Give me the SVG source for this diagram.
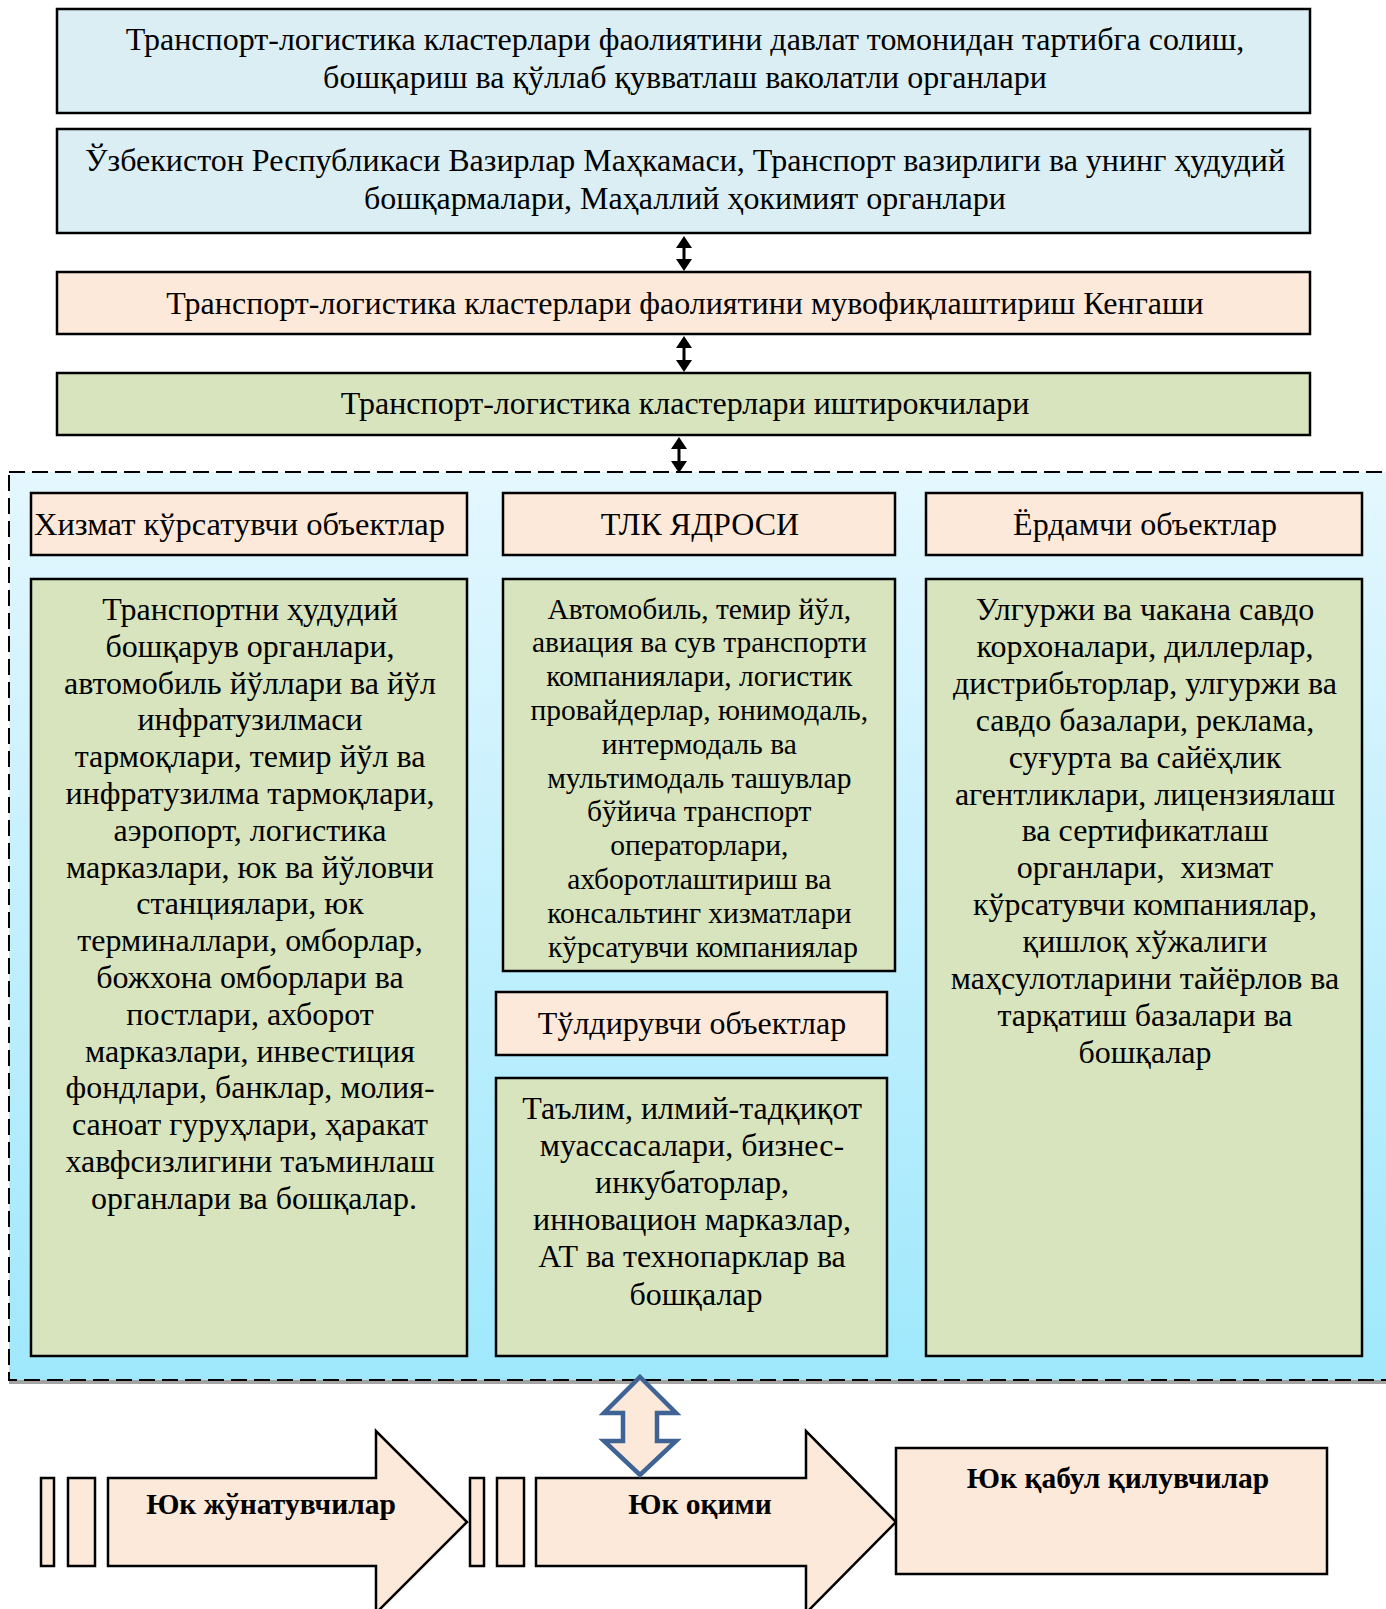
<svg xmlns="http://www.w3.org/2000/svg" width="1386" height="1609" viewBox="0 0 1386 1609">
<defs>
<linearGradient id="bg" x1="0" y1="0" x2="0" y2="1">
<stop offset="0" stop-color="#e4f7fe"/>
<stop offset="1" stop-color="#9fe8fc"/>
</linearGradient>
<marker id="ah" viewBox="0 0 12 16" refX="0" refY="8" markerWidth="12" markerHeight="16" markerUnits="userSpaceOnUse" orient="auto-start-reverse">
<path d="M0,0 L12,8 L0,16 Z" fill="#000"/>
</marker>
<style>
.box{stroke:#000;stroke-width:2.5}
.blue{fill:#daeef3}
.peach{fill:#fde9d9}
.green{fill:#d7e4bd}
text{font-family:"Liberation Serif","Times New Roman",serif;fill:#000}
.t{font-size:32px;text-anchor:middle}
.h{font-size:32.5px}
.i{font-size:32px;text-anchor:middle}
.c{font-size:29.5px;text-anchor:middle}
.b{font-size:29.5px;font-weight:bold;text-anchor:middle}
.conn{stroke:#000;stroke-width:3;fill:none}
</style>
</defs>
<rect width="1386" height="1609" fill="#fff"/>

<g id="cluster-container">
<rect x="9" y="1380" width="1390" height="4" fill="#a3a3a3"/>
<rect x="9" y="472" width="1390" height="908" fill="url(#bg)" stroke="#000" stroke-width="2" stroke-dasharray="16 7"/>
</g>

<g id="n1">
<rect class="box blue" x="57" y="9" width="1253" height="104"/>
<text class="t" x="685" y="50">Транспорт-логистика кластерлари фаолиятини давлат томонидан тартибга солиш,</text>
<text class="t" x="685" y="88">бошқариш ва қўллаб қувватлаш ваколатли органлари</text>
</g>
<g id="n2">
<rect class="box blue" x="57" y="129" width="1253" height="104"/>
<text class="t" x="685" y="171">Ўзбекистон Республикаси Вазирлар Маҳкамаси, Транспорт вазирлиги ва унинг ҳудудий</text>
<text class="t" x="685" y="209">бошқармалари, Маҳаллий ҳокимият органлари</text>
</g>
<g id="n3">
<rect class="box peach" x="57" y="272" width="1253" height="62"/>
<text class="t" x="685" y="314">Транспорт-логистика кластерлари фаолиятини мувофиқлаштириш Кенгаши</text>
</g>
<g id="n4">
<rect class="box green" x="57" y="373" width="1253" height="62"/>
<text class="t" x="685" y="414">Транспорт-логистика кластерлари иштирокчилари</text>
</g>

<g id="h-service">
<rect class="box peach" x="31" y="493" width="436" height="62"/>
<text class="h" x="34" y="535">Хизмат кўрсатувчи объектлар</text>
</g>
<g id="h-core">
<rect class="box peach" x="503" y="493" width="392" height="62"/>
<text class="t" x="700" y="535">ТЛК ЯДРОСИ</text>
</g>
<g id="h-aux">
<rect class="box peach" x="926" y="493" width="436" height="62"/>
<text class="t" x="1145" y="535">Ёрдамчи объектлар</text>
</g>

<g id="service-list">
<rect class="box green" x="31" y="579" width="436" height="777"/>
<text class="i">
<tspan x="254" y="620">Транспортни ҳудудий</tspan>
<tspan x="254" y="656.8">бошқарув органлари,</tspan>
<tspan x="254" y="693.6">автомобиль йўллари ва йўл</tspan>
<tspan x="254" y="730.4">инфратузилмаси</tspan>
<tspan x="254" y="767.2">тармоқлари, темир йўл ва</tspan>
<tspan x="254" y="804">инфратузилма тармоқлари,</tspan>
<tspan x="254" y="840.8">аэропорт, логистика</tspan>
<tspan x="254" y="877.6">марказлари, юк ва йўловчи</tspan>
<tspan x="254" y="914.4">станциялари, юк</tspan>
<tspan x="254" y="951.2">терминаллари, омборлар,</tspan>
<tspan x="254" y="988">божхона омборлари ва</tspan>
<tspan x="254" y="1024.8">постлари, ахборот</tspan>
<tspan x="254" y="1061.6">марказлари, инвестиция</tspan>
<tspan x="254" y="1098.4">фондлари, банклар, молия-</tspan>
<tspan x="254" y="1135.2">саноат гуруҳлари, ҳаракат</tspan>
<tspan x="254" y="1172">хавфсизлигини таъминлаш</tspan>
<tspan x="254" y="1208.8">органлари ва бошқалар.</tspan>
</text>
</g>

<g id="core-list">
<rect class="box green" x="503" y="579" width="392" height="392"/>
<text class="c">
<tspan x="703" y="618.5">Автомобиль, темир йўл,</tspan>
<tspan x="703" y="652.3">авиация ва сув транспорти</tspan>
<tspan x="703" y="686.1">компаниялари, логистик</tspan>
<tspan x="703" y="719.9">провайдерлар, юнимодаль,</tspan>
<tspan x="703" y="753.7">интермодаль ва</tspan>
<tspan x="703" y="787.5">мультимодаль ташувлар</tspan>
<tspan x="703" y="821.3">бўйича транспорт</tspan>
<tspan x="703" y="855.1">операторлари,</tspan>
<tspan x="703" y="888.9">ахборотлаштириш ва</tspan>
<tspan x="703" y="922.7">консальтинг хизматлари</tspan>
<tspan x="703" y="956.5">кўрсатувчи компаниялар</tspan>
</text>
</g>

<g id="h-complement">
<rect class="box peach" x="496" y="992" width="391" height="63"/>
<text class="t" x="692" y="1034">Тўлдирувчи объектлар</text>
</g>

<g id="complement-list">
<rect class="box green" x="496" y="1078" width="391" height="278"/>
<text class="i">
<tspan x="696" y="1119">Таълим, илмий-тадқиқот</tspan>
<tspan x="696" y="1156.1">муассасалари, бизнес-</tspan>
<tspan x="696" y="1193.2">инкубаторлар,</tspan>
<tspan x="696" y="1230.3">инновацион марказлар,</tspan>
<tspan x="696" y="1267.4">АТ ва технопарклар ва</tspan>
<tspan x="696" y="1304.5">бошқалар</tspan>
</text>
</g>

<g id="aux-list">
<rect class="box green" x="926" y="579" width="436" height="777"/>
<text class="i" xml:space="preserve">
<tspan x="1149" y="620">Улгуржи ва чакана савдо</tspan>
<tspan x="1149" y="656.9">корхоналари, диллерлар,</tspan>
<tspan x="1149" y="693.8">дистрибьторлар, улгуржи ва</tspan>
<tspan x="1149" y="730.7">савдо базалари, реклама,</tspan>
<tspan x="1149" y="767.6">суғурта ва сайёҳлик</tspan>
<tspan x="1149" y="804.5">агентликлари, лицензиялаш</tspan>
<tspan x="1149" y="841.4">ва сертификатлаш</tspan>
<tspan x="1149" y="878.3">органлари,  хизмат</tspan>
<tspan x="1149" y="915.2">кўрсатувчи компаниялар,</tspan>
<tspan x="1149" y="952.1">қишлоқ хўжалиги</tspan>
<tspan x="1149" y="989">маҳсулотларини тайёрлов ва</tspan>
<tspan x="1149" y="1025.9">тарқатиш базалари ва</tspan>
<tspan x="1149" y="1062.8">бошқалар</tspan>
</text>
</g>

<g id="senders">
<rect class="box peach" x="41" y="1478" width="13" height="88"/>
<rect class="box peach" x="68" y="1478" width="27" height="88"/>
<path class="box peach" d="M108,1478 L376,1478 L376,1431 L467,1522 L376,1613 L376,1566 L108,1566 Z"/>
<text class="b" x="271" y="1514">Юк жўнатувчилар</text>
</g>
<g id="flow">
<rect class="box peach" x="470" y="1478" width="14" height="88"/>
<rect class="box peach" x="497" y="1478" width="27" height="88"/>
<path class="box peach" d="M536,1478 L806,1478 L806,1431 L896,1522 L806,1613 L806,1566 L536,1566 Z"/>
<text class="b" x="700" y="1514">Юк оқими</text>
</g>
<g id="receivers">
<rect class="box peach" x="896" y="1448" width="431" height="126"/>
<text class="b" x="1118" y="1488">Юк қабул қилувчилар</text>
</g>

<g id="connectors">
<line class="conn" x1="684" y1="248" x2="684" y2="259" marker-start="url(#ah)" marker-end="url(#ah)"/>
<line class="conn" x1="684" y1="348" x2="684" y2="360" marker-start="url(#ah)" marker-end="url(#ah)"/>
<line class="conn" x1="679" y1="449" x2="679" y2="461" marker-start="url(#ah)" marker-end="url(#ah)"/>
<path d="M640,1377 L676,1413 L657,1413 L657,1441 L676,1441 L640,1475 L604,1441 L623,1441 L623,1413 L604,1413 Z" fill="#fde9d9" stroke="#3e6394" stroke-width="4.5" stroke-linejoin="miter"/>
</g>
</svg>
